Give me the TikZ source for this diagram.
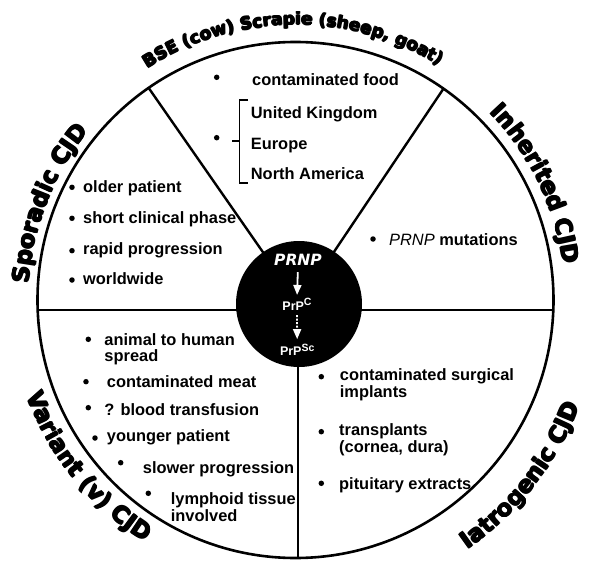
\documentclass[tikz,border=0pt]{standalone}
\usepackage{fontspec}
\setmainfont{Liberation Sans}
\newfontfamily\headfont{DejaVu Sans Bold}
\newfontfamily\hubheadfont{DejaVu Sans Bold Oblique}
\usetikzlibrary{decorations.text,arrows.meta}
\newcommand{\bodyfont}{\fontsize{16.4}{16.5}\selectfont\bfseries}
\newcommand{\rimfont}{\headfont\fontsize{23}{23}\selectfont}
\newcommand{\rimsmallfont}{\headfont\fontsize{17}{17}\selectfont}
\newcommand{\prpfont}{\fontsize{12.5}{13}\selectfont\bfseries}
\newcommand{\supfont}{\fontsize{10.5}{11}\selectfont\bfseries}
\newcommand{\cjditem}[6]{\node[bul] (b#1) at (#2,#3) {}; \node[itm] (t#1) at (#4,#5) {#6};}
% heavy rim title: same text laid a few times, slightly offset
\newcommand{\rimtitle}[5]{\foreach \dx/\dy in {0/0,0.8/0,-0.8/0,0/0.8,0/-0.8}
  {\path[arctitle={|#1|#5},shift={(\dx,\dy)}] (#3:#2) arc[start angle=#3,end angle=#4,radius=#2];}}
\tikzset{
  rim/.style={line width=2.6pt},
  spoke/.style={line width=2.4pt},
  bul/.style={circle,fill,inner sep=0pt,minimum size=5.5pt},
  itm/.style={anchor=base west,inner sep=0pt,align=left,font=\bodyfont},
  hub/.style={circle,fill=black,inner sep=0pt,minimum size=126pt},
  hubtxt/.style={text=white,inner sep=1pt,anchor=base},
  wharrow/.style={white,line width=1.8pt,-{Triangle[width=8pt,length=10pt]}},
  arctitle/.style={decorate,decoration={text along path,text align=center,text={#1}}},
}
\begin{document}
\begin{tikzpicture}[x=1pt,y=1pt]
    \useasboundingbox (-295.5,-262) rectangle (297.5,300);
    %
    \coordinate (hubc) at (3.5,-4);
    \coordinate (eW) at (-257.8,-10);
    \coordinate (eE) at (257.8,-10);
    \coordinate (eS) at (2.5,-258);
    \coordinate (eNW) at (124.7:258);
    \coordinate (eNE) at (55:258);
    \draw[rim] (0,0) circle (258);
    \draw[spoke] (eW) -- (eE);
    \draw[spoke] (eS) -- (eS |- hubc);
    \draw[spoke] (hubc) -- (eNW);
    \draw[spoke] (hubc) -- (eNE);
    \node[hub] (hub) at (hubc) {};
    %
    \node[hubtxt,font=\hubheadfont\fontsize{15.5}{16}\selectfont] (prnp) at (2.5,35) {PRNP};
    \node[hubtxt,font=\prpfont] (prpc) at (1.5,-10) {PrP\raisebox{4.5pt}{\supfont C}};
    \node[hubtxt,font=\prpfont] (prpsc) at (1.7,-55.7) {PrP\raisebox{4.5pt}{\supfont Sc}};
    \draw[wharrow,shorten <=6pt,shorten >=2pt] (prnp.south) -- (prpc.north);
    \draw[wharrow,dash pattern=on 2pt off 1.5pt,shorten <=4pt,shorten >=3.5pt] (prpc.south) -- (prpsc.north);
    %
    \rimtitle{\rimsmallfont}{275}{150.5}{30.5}{BSE (cow) Scrapie (sheep, goat)}
    \rimtitle{\rimfont}{267}{196.6}{120.6}{Sporadic CJD}
    \rimtitle{\rimfont}{270}{63.8}{-12.2}{Inherited CJD}
    \rimtitle{\rimfont}{285}{178.8}{258.8}{Variant (v) CJD}
    \rimtitle{\rimfont}{303}{282.1}{362.1}{Iatrogenic CJD}
    %
    \cjditem{old}{-223.5}{112.7}{-212.5}{107.7}{older patient}
    \cjditem{short}{-223.5}{81.7}{-212.5}{76.7}{short clinical phase}
    \cjditem{rapid}{-223.5}{49.3}{-212.5}{46}{rapid progression}
    \cjditem{world}{-223.5}{20}{-212.5}{15.7}{worldwide}
    %
    \cjditem{food}{-78.8}{222.7}{-43.5}{214}{contaminated food}
    \node[bul] (bplace) at (-78.8,162.3) {};
    \node[itm] (tuk) at (-44.8,181.7) {United Kingdom};
    \node[itm] (teu) at (-44.8,150.7) {Europe};
    \node[itm] (tna) at (-44.8,120) {North America};
    \draw[line width=1.4pt] (-47.5,200) -- (-56.2,200) -- (-56.2,117) -- (-47.5,117);
    \draw[line width=1.4pt] (-63.5,159) -- (-56.2,159);
    %
    \cjditem{mut}{77.5}{61}{93.5}{54.3}{{\mdseries\itshape PRNP} mutations}
    %
    \cjditem{animal}{-207.2}{-39.3}{-191.2}{-61.5}{animal to human\\spread}
    \cjditem{meat}{-209.5}{-81.7}{-188.8}{-87.3}{contaminated meat}
    \cjditem{blood}{-207.2}{-107.7}{-191.2}{-115}{? blood transfusion}
    \cjditem{young}{-200.5}{-138}{-188.8}{-141.7}{younger patient}
    \cjditem{slow}{-174.8}{-162.7}{-152.8}{-173.3}{slower progression}
    \cjditem{lymph}{-147.2}{-193.3}{-124.8}{-221}{lymphoid tissue\\involved}
    %
    \cjditem{surg}{25.8}{-76.7}{44.2}{-97.4}{contaminated surgical\\implants}
    \cjditem{trans}{25.8}{-131.7}{43.5}{-152.4}{transplants\\(cornea, dura)}
    \cjditem{pit}{25.8}{-183.3}{43.5}{-189.3}{pituitary extracts}
\end{tikzpicture}
\end{document}
